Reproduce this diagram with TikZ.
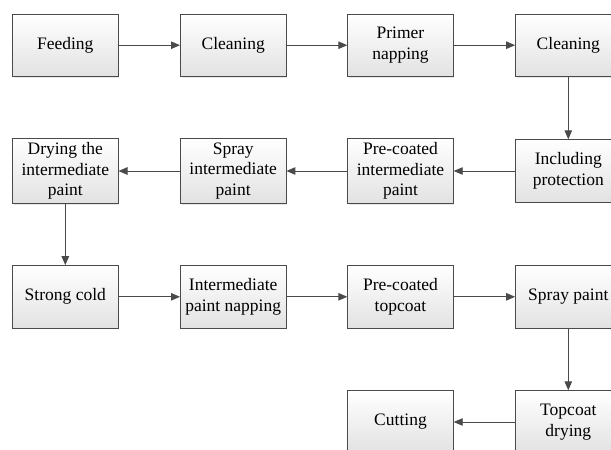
\documentclass[tikz,border=0pt]{standalone}
\usepackage{fontspec}
\setmainfont{Liberation Serif}
\usepackage{tikz}
\usetikzlibrary{arrows.meta}
\usetikzlibrary{shadows}
\definecolor{linegray}{HTML}{4A4A4A}
\definecolor{boxbottom}{HTML}{E2E2E2}
\tikzset{
	% process boxes and the arrows between them
	proc box/.style={rectangle,draw=linegray,line width=0.9pt,top color=white,bottom color=boxbottom,
		minimum width=105.5pt,minimum height=62.5pt,inner sep=4pt,align=center,
		drop shadow={shadow xshift=1.2pt,shadow yshift=-1.2pt,opacity=0.18}},
	flow/.style={draw=linegray,line width=0.9pt,-{Triangle[length=9pt,width=7.5pt]},fill=linegray}
}

\begin{document}
\begin{tikzpicture}[x=1pt,y=1pt,font=\fontsize{17.5}{20.7}\selectfont]
			% macro for one process box at a given position
			\newcommand{\stage}[3]{\node[proc box](#1)at(#2){#3};}
			\useasboundingbox (0,0) rectangle (611,-450);
			\clip (0,0) rectangle (611,-450);
			
			% first row, left to right
			\stage{feed}{65.3,-45.2}{Feeding}
			\stage{clean1}{233.2,-45.2}{Cleaning}
			\stage{primer}{400.5,-45.2}{Primer\\napping}
			\stage{clean2}{568.3,-45.2}{Cleaning}
			
			% second row, right to left
			\stage{protect}{568.3,-171}{Including\\protection}
			\stage{precoat}{400.5,-171}{Pre-coated\\intermediate\\paint}
			\stage{sprayint}{233.2,-171}{Spray\\intermediate\\paint}
			\stage{dryint}{65.3,-171}{Drying the\\intermediate\\paint}
			
			% third row, left to right
			\stage{cold}{65.3,-296.8}{Strong cold}
			\stage{napint}{233.2,-296.8}{Intermediate\\paint napping}
			\stage{pretop}{400.5,-296.8}{Pre-coated\\topcoat}
			\stage{spray}{568.3,-296.8}{Spray paint}
			
			% last row
			\stage{drytop}{568.3,-422}{Topcoat\\drying}
			\stage{cut}{400.5,-422}{Cutting}
			
			\draw[flow](feed) -- (clean1);
			\draw[flow](clean1) -- (primer);
			\draw[flow](primer) -- (clean2);
			\draw[flow](clean2) -- (protect);
			\draw[flow](protect) -- (precoat);
			\draw[flow](precoat) -- (sprayint);
			\draw[flow](sprayint) -- (dryint);
			\draw[flow](dryint) -- (cold);
			\draw[flow](cold) -- (napint);
			\draw[flow](napint) -- (pretop);
			\draw[flow](pretop) -- (spray);
			\draw[flow](spray) -- (drytop);
			\draw[flow](drytop) -- (cut);
		\end{tikzpicture}
\end{document}
